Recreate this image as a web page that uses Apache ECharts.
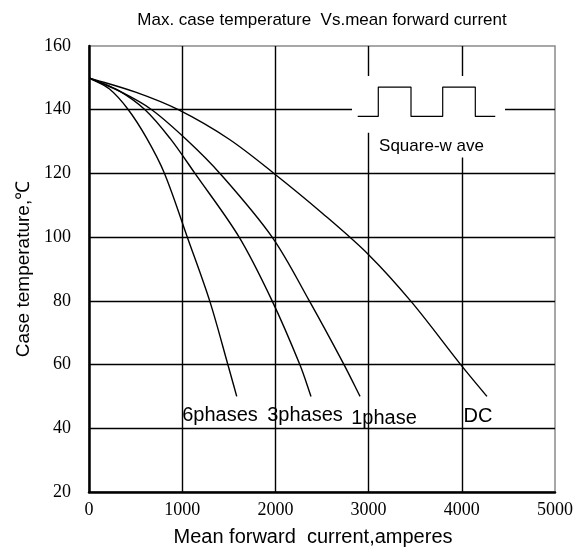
<!DOCTYPE html>
<html><head><meta charset="utf-8">
<script src="https://cdn.jsdelivr.net/npm/echarts@6/dist/echarts.min.js"></script>
<style>html,body{margin:0;padding:0;background:#fff}#c{width:588px;height:552px}</style>
</head><body><div id="c"></div>
<script>
// Data (current in A, case temperature in °C)
const dcData = [[0,150],[500,145.5],[958,140],[1500,130.8],[1985,120],[2500,107.6],[3000,94.5],[3462,79.6],[3988,60],[4270,50]];
const onePhaseData = [[0,150],[350,145.5],[673,140],[1050,130.5],[1405,120],[1965,100],[2364,80],[2736,60],[2908,50]];
const threePhaseData = [[0,150],[300,146.3],[601,140],[870,131],[1137,120],[1611,100],[1965,80],[2262,60],[2382,50]];
const sixPhaseData = [[0,150],[220,146.5],[422,140],[620,131],[810,120],[1055,100],[1295,80],[1490,60],[1585,50]];
const seriesNames = ['DC','1phase','3phases','6phases'];
const squareWaveX = [2883,3104,3104,3455,3455,3795,3795,4145,4145,4359];
const squareWaveY = [137.9,137.9,147.1,147.1,137.9,137.9,147.1,147.1,137.9,137.9];
const xTicks = [0,1000,2000,3000,4000,5000];
const yTicks = [20,40,60,80,100,120,140,160];

const curveLabels = [
  {text:'6phases', x:1405, y:44.1},
  {text:'3phases', x:2318, y:44.1},
  {text:'1phase',  x:3165, y:43.1},
  {text:'DC',      x:4174, y:43.7}
];

// smooth path through pixel points (chord-length Catmull-Rom -> cubic Bezier)
function smoothPath(p){
  const n = p.length, t=[0];
  for(let i=1;i<n;i++) t.push(t[i-1]+Math.hypot(p[i][0]-p[i-1][0], p[i][1]-p[i-1][1]));
  const m = p.map((pt,i)=>{
    const a = p[Math.max(0,i-1)], b = p[Math.min(n-1,i+1)];
    const dt = t[Math.min(n-1,i+1)] - t[Math.max(0,i-1)];
    return [(b[0]-a[0])/dt, (b[1]-a[1])/dt];
  });
  let d = 'M'+p[0][0]+' '+p[0][1];
  for(let i=0;i<n-1;i++){
    const h = (t[i+1]-t[i])/3;
    d += ' C'+(p[i][0]+m[i][0]*h)+' '+(p[i][1]+m[i][1]*h)+' '+(p[i+1][0]-m[i+1][0]*h)+' '+(p[i+1][1]-m[i+1][1]*h)+' '+p[i+1][0]+' '+p[i+1][1];
  }
  return d;
}

const chart = echarts.init(document.getElementById('c'));
const curveSeries = [dcData, onePhaseData, threePhaseData, sixPhaseData].map((d,i)=>({
  name: seriesNames[i], type:'custom', data:d, encode:{x:0,y:1}, z:3, silent:true, clip:true,
  renderItem:(params, api)=>{
    if(params.dataIndex!==0) return null;
    const pts = d.map(v=>api.coord(v));
    return {type:'path', shape:{pathData:smoothPath(pts)}, style:{stroke:'#000', lineWidth:1.4, fill:'none'}};
  }
}));

chart.setOption({
  animation:false,
  title:{text:'Max. case temperature  Vs.mean forward current', left:317, textAlign:'center', top:7,
    textStyle:{fontFamily:'Liberation Sans', fontWeight:'normal', fontSize:17, color:'#000'}},
  grid:{left:89, right:33, top:46, bottom:58, show:true, borderColor:'#8a8a8a', borderWidth:1.5, backgroundColor:'transparent'},
  xAxis:{type:'value', min:xTicks[0], max:xTicks[xTicks.length-1], interval:1000,
    name:'Mean forward  current,amperes', nameLocation:'middle', nameGap:35,
    nameTextStyle:{fontFamily:'Liberation Sans', fontSize:20, color:'#000', padding:[0,18,0,0]},
    axisLine:{show:true, lineStyle:{color:'#000', width:2.5}},
    axisTick:{show:false},
    axisLabel:{fontFamily:'Liberation Serif', fontSize:18, color:'#000', margin:9, formatter:v=>String(v)},
    splitLine:{show:true, showMinLine:false, showMaxLine:false, lineStyle:{color:'#000', width:1.4}}
  },
  yAxis:{type:'value', min:yTicks[0], max:yTicks[yTicks.length-1], interval:20,
    name:'Case temperature,℃', nameLocation:'middle', nameGap:53, nameRotate:90,
    nameTextStyle:{fontFamily:'Liberation Sans', fontSize:19, color:'#000'},
    axisLine:{show:true, lineStyle:{color:'#000', width:2.5}},
    axisTick:{show:false},
    axisLabel:{fontFamily:'Liberation Serif', fontSize:18, color:'#000', margin:18, formatter:v=>String(v)},
    splitLine:{show:true, showMinLine:false, showMaxLine:false, lineStyle:{color:'#000', width:1.4}}
  },
  series: curveSeries.concat([
    {type:'line', data:[], z:2, silent:true,
      markArea:{silent:true, itemStyle:{color:'#fff', opacity:1},
        data:[
          [{coord:[2822,150.6]},{coord:[4464,132.8]}],
          [{coord:[3080,133]},{coord:[4300,125]}]
        ]}},
    {type:'line', data:squareWaveX.map((x,i)=>[x,squareWaveY[i]]), showSymbol:false, symbol:'none',
      lineStyle:{color:'#000', width:1.2}, z:4, silent:true}
  ])
});

function place(){
  const g = [];
  curveLabels.forEach(l=>{
    const p = chart.convertToPixel({gridIndex:0},[l.x,l.y]);
    g.push({type:'text', x:p[0], y:p[1], z:10, style:{text:l.text, fill:'#000', font:'20px "Liberation Sans"', textAlign:'center', textVerticalAlign:'middle'}});
  });
  const sp = chart.convertToPixel({gridIndex:0},[3675,128.4]);
  g.push({type:'text', x:sp[0], y:sp[1], z:10, style:{text:'Square-w ave', fill:'#000', font:'17px "Liberation Sans"', textAlign:'center', textVerticalAlign:'middle'}});
  chart.setOption({graphic:g});
}
place();
</script></body></html>
